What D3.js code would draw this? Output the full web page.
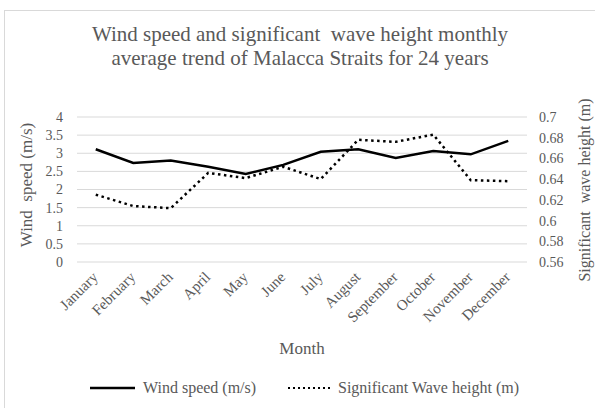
<!DOCTYPE html>
<html><head><meta charset="utf-8">
<script src="https://cdn.jsdelivr.net/npm/d3@7"></script>
<style>body{margin:0;background:#fff}svg{display:block}text{font-family:"Liberation Serif","Times New Roman",serif;fill:#595959}</style>
</head><body><svg id="c" width="595" height="408"></svg>
<script>
const months = ["January","February","March","April","May","June","July","August","September","October","November","December"];
const windSpeed = [3.11,2.73,2.80,2.63,2.43,2.68,3.04,3.11,2.87,3.06,2.97,3.34];
const waveHeight = [0.625,0.614,0.612,0.646,0.641,0.652,0.640,0.678,0.676,0.683,0.639,0.638];
const leftTicks = [0,0.5,1,1.5,2,2.5,3,3.5,4];
const rightTicks = [0.56,0.58,0.6,0.62,0.64,0.66,0.68,0.7];
const titleLines = ["Wind speed and significant  wave height monthly","average trend of Malacca Straits for 24 years"];

const svg = d3.select("#c");
svg.append("rect").attr("x",4.5).attr("y",10.5).attr("width",600).attr("height",420).attr("fill","#fff").attr("stroke","#d9d9d9");

const L=77, R=527, T=117, B=262;
const x = d3.scaleBand().domain(months).range([L,R]);
const yL = d3.scaleLinear().domain([0,4]).range([B,T]);
const yR = d3.scaleLinear().domain([0.56,0.7]).range([B,T]);

svg.append("g").selectAll("line").data(leftTicks).join("line")
  .attr("x1",L).attr("x2",R).attr("y1",d=>yL(d)).attr("y2",d=>yL(d))
  .attr("stroke","#d9d9d9").attr("stroke-width",1);

const gl = svg.append("g").attr("transform",`translate(${L},0)`)
  .call(d3.axisLeft(yL).tickValues(leftTicks).tickSize(0).tickPadding(14).tickFormat(d=>String(d)));
gl.select(".domain").remove();
gl.selectAll("text").style("font-size","14px").attr("fill","#595959").style("font-family","Liberation Serif");

const gr = svg.append("g").attr("transform",`translate(${R},0)`)
  .call(d3.axisRight(yR).tickValues(rightTicks).tickSize(0).tickPadding(12).tickFormat(d=>String(+d.toFixed(2))));
gr.select(".domain").remove();
gr.selectAll("text").style("font-size","14px").attr("fill","#595959").style("font-family","Liberation Serif");

const gx = svg.append("g").attr("transform",`translate(0,${B})`)
  .call(d3.axisBottom(x).tickSize(0).tickPadding(0));
gx.select(".domain").remove();
gx.selectAll("text").attr("text-anchor","end").attr("dy",0).attr("y",0)
  .attr("transform","translate(3,16) rotate(-45)")
  .style("font-size","15px").attr("fill","#595959").style("font-family","Liberation Serif");

const cx = d => x(d)+x.bandwidth()/2;
svg.append("path").datum(windSpeed).attr("fill","none").attr("stroke","#000").attr("stroke-width",2.5)
  .attr("d",d3.line().x((d,i)=>cx(months[i])).y(d=>yL(d)));
svg.append("path").datum(waveHeight).attr("fill","none").attr("stroke","#000").attr("stroke-width",2.5)
  .attr("stroke-dasharray","2.5,3.5")
  .attr("d",d3.line().x((d,i)=>cx(months[i])).y(d=>yR(d)));

svg.append("text").attr("text-anchor","middle").style("font-size","21px")
  .selectAll("tspan").data(titleLines).join("tspan")
  .attr("x",300).attr("y",(d,i)=>41+i*24).style("white-space","pre").text(d=>d);

svg.append("text").attr("text-anchor","middle").style("font-size","17px")
  .attr("transform","translate(32,185) rotate(-90)").style("white-space","pre").text("Wind  speed (m/s)");
svg.append("text").attr("text-anchor","middle").style("font-size","16px")
  .attr("transform","translate(590,190) rotate(-90)").style("white-space","pre").text("Significant  wave height (m)");
svg.append("text").attr("text-anchor","middle").style("font-size","17px")
  .attr("x",302).attr("y",354).text("Month");

const lg = svg.append("g");
lg.append("line").attr("x1",90).attr("x2",135).attr("y1",388).attr("y2",388).attr("stroke","#000").attr("stroke-width",2.5);
lg.append("text").attr("x",143).attr("y",393).style("font-size","16px").text("Wind speed (m/s)");
lg.append("line").attr("x1",288).attr("x2",330).attr("y1",388).attr("y2",388).attr("stroke","#000").attr("stroke-width",2).attr("stroke-dasharray","2,3");
lg.append("text").attr("x",338).attr("y",393).style("font-size","16px").text("Significant Wave height (m)");
</script></body></html>
